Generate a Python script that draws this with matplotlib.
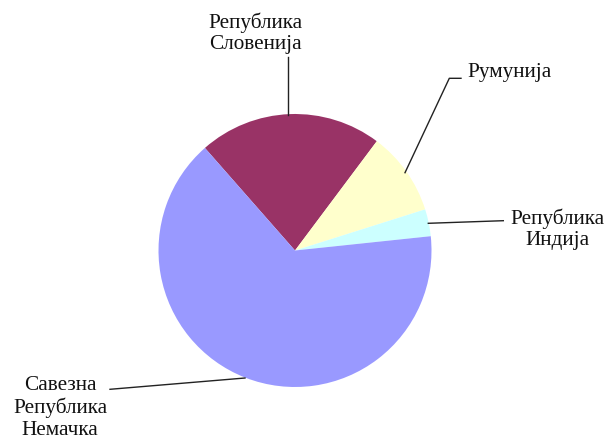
import matplotlib
matplotlib.use("Agg")
import matplotlib.pyplot as plt

# data
countries = ["Република\nСловенија", "Румунија", "Република\nИндија",
             "Савезна\nРепублика\nНемачка"]
shares = [21.7, 9.9, 3.2, 65.2]
colors = ["#993366", "#FFFFCC", "#CCFFFF", "#9999FF"]

W, H = 609, 441
fig = plt.figure(figsize=(W / 100, H / 100), dpi=100)
ax = fig.add_axes([0, 0, 1, 1])

cx, cy, r = 295, H - 250.5, 136.5
ax.pie(shares, colors=colors, startangle=131.3, counterclock=False,
       center=(cx, cy), radius=r, frame=True,
       wedgeprops=dict(linewidth=0))
ax.set_xlim(0, W)
ax.set_ylim(0, H)
ax.set_aspect("equal")
ax.axis("off")

# label layout: (text x, text y, leader polyline in pixel coords)
layout = [
    (255, 33, [(288.3, 115), (288.3, 57)]),
    (510, 73, [(405, 172.7), (449.3, 78.3), (461, 78.3)]),
    (557, 229, [(428.3, 223.3), (503.3, 220.7)]),
    (60, 408, [(245, 378), (110, 389.3)]),
]
for name, (tx, ty, pts) in zip(countries, layout):
    xs = [p[0] for p in pts]
    ys = [H - p[1] for p in pts]
    ax.plot(xs, ys, color="#222222", linewidth=1.0)
    ax.text(tx, H - ty, name, ha="center", va="center", fontsize=15.3,
            family="Liberation Serif", linespacing=1.17, color="#111111")

fig.savefig("out.png", dpi=100)
